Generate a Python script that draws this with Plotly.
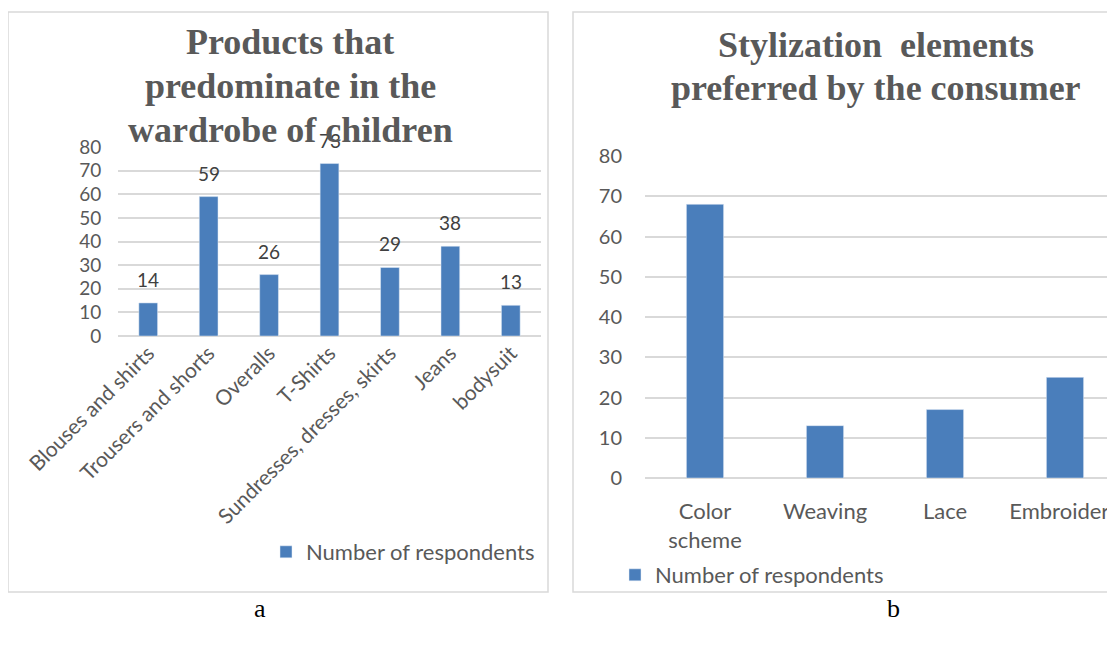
import plotly.graph_objects as go

# the page body adds an 8 px margin, so the figure is 8 px smaller than the window
OFF = 8
W, H = 1115 - OFF, 650 - OFF

# chart a
products = ["Blouses and shirts", "Trousers and shorts", "Overalls", "T-Shirts",
            "Sundresses, dresses, skirts", "Jeans", "bodysuit"]
products_n = [14, 59, 26, 73, 29, 38, 13]

# chart b
styles = ["Color<br>scheme", "Weaving", "Lace", "Embroidery"]
styles_n = [68, 13, 17, 25]

y_ticks = [0, 10, 20, 30, 40, 50, 60, 70, 80]

BLUE = "#4a7ebb"
GRID = "#d9d9d9"
TXT = "#595959"
SANS = "Lato, 'Open Sans', sans-serif"
SERIF = "'Liberation Serif', 'Times New Roman', serif"


# screen pixel -> paper fraction
def px_x(v):
    return (v - OFF) / W


def px_y(v):
    return 1 - (v - OFF) / H


fig = go.Figure()

fig.add_trace(go.Bar(
    x=products, y=products_n, name="Number of respondents",
    marker_color=BLUE, xaxis="x", yaxis="y", legend="legend",
))
fig.add_trace(go.Bar(
    x=styles, y=styles_n, name="Number of respondents",
    marker_color=BLUE, xaxis="x2", yaxis="y2", legend="legend2",
))

# data labels on chart a
for cat, v in zip(products, products_n):
    fig.add_annotation(x=cat, y=v, xref="x", yref="y", text=str(v),
                       showarrow=False, yanchor="bottom", yshift=10,
                       font=dict(family=SANS, size=19, color="#404040"))

# panel frames
fig.add_shape(type="rect", xref="paper", yref="paper",
              x0=px_x(8), x1=px_x(548), y0=px_y(592), y1=px_y(12),
              line=dict(color=GRID, width=1.5), layer="below")
fig.add_shape(type="rect", xref="paper", yref="paper",
              x0=px_x(573), x1=1.05, y0=px_y(592), y1=px_y(12),
              line=dict(color=GRID, width=1.5), layer="below")

# titles, one annotation per line to get the tight line spacing
title_a = ["Products that", "predominate in the", "wardrobe of children"]
title_b = ["Stylization  elements", "preferred by the consumer"]
for i, line in enumerate(title_a):
    fig.add_annotation(x=px_x(290), y=px_y(42 + 44 * i), xref="paper", yref="paper",
                       text=f"<b>{line}</b>", showarrow=False,
                       xanchor="center", yanchor="middle",
                       font=dict(family=SERIF, size=36, color=TXT))
for i, line in enumerate(title_b):
    fig.add_annotation(x=px_x(876), y=px_y(45 + 43 * i), xref="paper", yref="paper",
                       text=f"<b>{line}</b>", showarrow=False,
                       xanchor="center", yanchor="middle",
                       font=dict(family=SERIF, size=36, color=TXT))

# panel letters
fig.add_annotation(x=px_x(260), y=px_y(608), xref="paper", yref="paper", text="a",
                   showarrow=False, xanchor="center", yanchor="middle",
                   font=dict(family=SERIF, size=26, color="black"))
fig.add_annotation(x=px_x(893), y=px_y(608), xref="paper", yref="paper", text="b",
                   showarrow=False, xanchor="center", yanchor="middle",
                   font=dict(family=SERIF, size=26, color="black"))

fig.update_layout(
    width=W, height=H,
    margin=dict(l=0, r=0, t=0, b=0, autoexpand=False),
    paper_bgcolor="white", plot_bgcolor="white",
    bargap=0.69,
    xaxis=dict(domain=[px_x(118), px_x(541)], anchor="y", tickangle=-45,
               showgrid=False, ticks="", showline=False, automargin=False,
               tickfont=dict(family=SANS, size=21, color=TXT)),
    yaxis=dict(domain=[px_y(336), px_y(147)], anchor="x", range=[0, 80],
               tickvals=y_ticks, gridcolor=GRID, gridwidth=1.5,
               zeroline=True, zerolinecolor=GRID, zerolinewidth=1.5,
               ticks="outside", ticklen=12, tickcolor="rgba(0,0,0,0)",
               showline=False, automargin=False,
               tickfont=dict(family=SANS, size=19, color=TXT)),
    xaxis2=dict(domain=[px_x(645), 1.0], anchor="y2", range=[-0.5, -0.5 + 470 / 120],
                showgrid=False, ticks="outside", ticklen=14, tickcolor="rgba(0,0,0,0)",
                showline=False, automargin=False,
                tickfont=dict(family=SANS, size=22, color=TXT)),
    yaxis2=dict(domain=[px_y(478), px_y(156)], anchor="x2", range=[0, 80],
                tickvals=y_ticks, gridcolor=GRID, gridwidth=1.5,
                zeroline=True, zerolinecolor=GRID, zerolinewidth=1.5,
                ticks="outside", ticklen=18, tickcolor="rgba(0,0,0,0)",
                showline=False, automargin=False,
                tickfont=dict(family=SANS, size=20, color=TXT)),
    legend=dict(x=px_x(266), y=px_y(552), xanchor="left", yanchor="middle",
                itemwidth=30, bgcolor="rgba(0,0,0,0)",
                font=dict(family=SANS, size=22, color=TXT)),
    legend2=dict(x=px_x(615), y=px_y(575), xanchor="left", yanchor="middle",
                 itemwidth=30, bgcolor="rgba(0,0,0,0)",
                 font=dict(family=SANS, size=22, color=TXT)),
    showlegend=True,
)

fig.write_html("out.html")
